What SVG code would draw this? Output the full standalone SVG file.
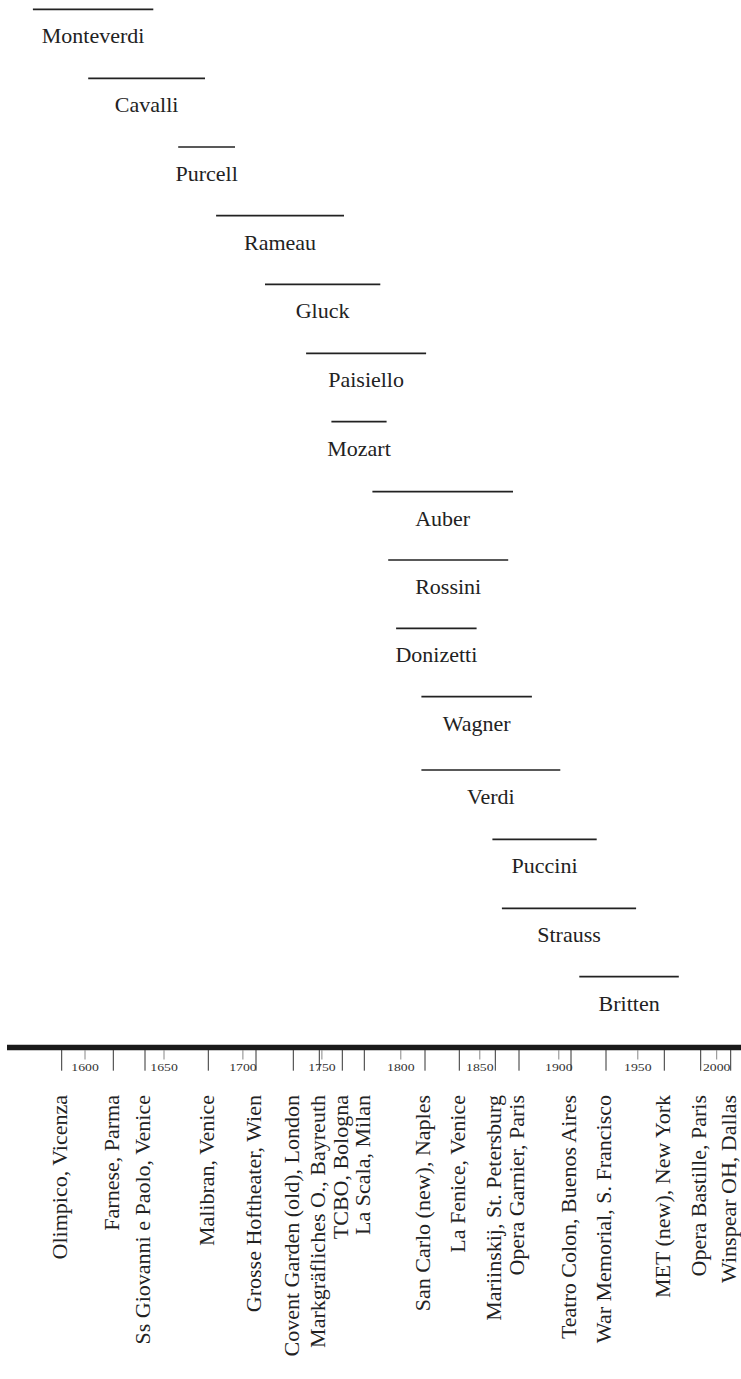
<svg xmlns="http://www.w3.org/2000/svg" width="741" height="1379" viewBox="0 0 741 1379">
<style>
.bar{stroke:#222;stroke-width:1.7;fill:none}
text.comp{font-family:'Liberation Serif',serif;font-size:22px;fill:#222;text-anchor:middle}
.venue{font-family:"Liberation Serif","Times New Roman",serif;font-size:22px;fill:#222;text-anchor:end}
.vtick{stroke:#333;stroke-width:1}
.ytick{stroke:#888;stroke-width:1}
.year{font-family:"Liberation Serif","Times New Roman",serif;font-size:10px;fill:#333;text-anchor:middle}
.axis{stroke:#1a1a1a;stroke-width:5.6}
</style>
<rect width="741" height="1379" fill="#fff"/>
<g id="composers">
<g id="monteverdi"><line class="bar" x1="32.9" y1="9.3" x2="153.3" y2="9.3"/><text class="comp" style="font-family:'Liberation Serif',serif" transform="translate(93.1,43.3)">Monteverdi</text></g>
<g id="cavalli"><line class="bar" x1="88.2" y1="78.3" x2="205" y2="78.3"/><text class="comp" style="font-family:'Liberation Serif',serif" transform="translate(146.6,112.3)">Cavalli</text></g>
<g id="purcell"><line class="bar" x1="178.2" y1="147" x2="235" y2="147"/><text class="comp" style="font-family:'Liberation Serif',serif" transform="translate(206.6,181)">Purcell</text></g>
<g id="rameau"><line class="bar" x1="216.1" y1="215.7" x2="344" y2="215.7"/><text class="comp" style="font-family:'Liberation Serif',serif" transform="translate(280,249.5)">Rameau</text></g>
<g id="gluck"><line class="bar" x1="265" y1="284.3" x2="380.3" y2="284.3"/><text class="comp" style="font-family:'Liberation Serif',serif" transform="translate(322.6,318.2)">Gluck</text></g>
<g id="paisiello"><line class="bar" x1="306.1" y1="353.3" x2="426.1" y2="353.3"/><text class="comp" style="font-family:'Liberation Serif',serif" transform="translate(366.1,387.2)">Paisiello</text></g>
<g id="mozart"><line class="bar" x1="331.4" y1="421.7" x2="386.6" y2="421.7"/><text class="comp" style="font-family:'Liberation Serif',serif" transform="translate(359,455.6)">Mozart</text></g>
<g id="auber"><line class="bar" x1="372.4" y1="491.7" x2="513" y2="491.7"/><text class="comp" style="font-family:'Liberation Serif',serif" transform="translate(442.7,525.6)">Auber</text></g>
<g id="rossini"><line class="bar" x1="388.2" y1="560" x2="508.2" y2="560"/><text class="comp" style="font-family:'Liberation Serif',serif" transform="translate(448.2,593.9)">Rossini</text></g>
<g id="donizetti"><line class="bar" x1="396.1" y1="628.3" x2="476.6" y2="628.3"/><text class="comp" style="font-family:'Liberation Serif',serif" transform="translate(436.4,662.2)">Donizetti</text></g>
<g id="wagner"><line class="bar" x1="421.4" y1="696.7" x2="531.9" y2="696.7"/><text class="comp" style="font-family:'Liberation Serif',serif" transform="translate(476.7,731.2)">Wagner</text></g>
<g id="verdi"><line class="bar" x1="421.4" y1="770" x2="560.3" y2="770"/><text class="comp" style="font-family:'Liberation Serif',serif" transform="translate(490.9,803.9)">Verdi</text></g>
<g id="puccini"><line class="bar" x1="492.4" y1="839.3" x2="596.7" y2="839.3"/><text class="comp" style="font-family:'Liberation Serif',serif" transform="translate(544.6,873.2)">Puccini</text></g>
<g id="strauss"><line class="bar" x1="501.9" y1="908.3" x2="636.1" y2="908.3"/><text class="comp" style="font-family:'Liberation Serif',serif" transform="translate(569,942.2)">Strauss</text></g>
<g id="britten"><line class="bar" x1="579.3" y1="976.7" x2="678.8" y2="976.7"/><text class="comp" style="font-family:'Liberation Serif',serif" transform="translate(629.1,1010.6)">Britten</text></g>
</g>
<g id="axis">
<line class="axis" x1="7" y1="1047.5" x2="741" y2="1047.5"/>
<g id="years">
<line class="ytick" x1="85" y1="1050" x2="85" y2="1059.5"/><text class="year" x="85" y="1071.3" textLength="27.5" lengthAdjust="spacingAndGlyphs">1600</text>
<line class="ytick" x1="164" y1="1050" x2="164" y2="1059.5"/><text class="year" x="164" y="1071.3" textLength="27.5" lengthAdjust="spacingAndGlyphs">1650</text>
<line class="ytick" x1="242.9" y1="1050" x2="242.9" y2="1059.5"/><text class="year" x="242.9" y="1071.3" textLength="27.5" lengthAdjust="spacingAndGlyphs">1700</text>
<line class="ytick" x1="321.9" y1="1050" x2="321.9" y2="1059.5"/><text class="year" x="321.9" y="1071.3" textLength="27.5" lengthAdjust="spacingAndGlyphs">1750</text>
<line class="ytick" x1="400.8" y1="1050" x2="400.8" y2="1059.5"/><text class="year" x="400.8" y="1071.3" textLength="27.5" lengthAdjust="spacingAndGlyphs">1800</text>
<line class="ytick" x1="479.8" y1="1050" x2="479.8" y2="1059.5"/><text class="year" x="479.8" y="1071.3" textLength="27.5" lengthAdjust="spacingAndGlyphs">1850</text>
<line class="ytick" x1="558.8" y1="1050" x2="558.8" y2="1059.5"/><text class="year" x="558.8" y="1071.3" textLength="27.5" lengthAdjust="spacingAndGlyphs">1900</text>
<line class="ytick" x1="637.8" y1="1050" x2="637.8" y2="1059.5"/><text class="year" x="637.8" y="1071.3" textLength="27.5" lengthAdjust="spacingAndGlyphs">1950</text>
<line class="ytick" x1="716.7" y1="1050" x2="716.7" y2="1059.5"/><text class="year" x="716.7" y="1071.3" textLength="27.5" lengthAdjust="spacingAndGlyphs">2000</text>
</g>
</g>
<g id="venues">
<g id="v-olimpico"><line class="vtick" x1="61.7" y1="1050" x2="61.7" y2="1070.7"/><text class="venue" transform="translate(67,1095) rotate(-90)">Olimpico, Vicenza</text></g>
<g id="v-farnese"><line class="vtick" x1="113.3" y1="1050" x2="113.3" y2="1070.7"/><text class="venue" transform="translate(118.6,1095) rotate(-90)">Farnese, Parma</text></g>
<g id="v-ssgiovanni"><line class="vtick" x1="145" y1="1050" x2="145" y2="1070.7"/><text class="venue" transform="translate(150.3,1095) rotate(-90)">Ss Giovanni e Paolo, Venice</text></g>
<g id="v-malibran"><line class="vtick" x1="208.3" y1="1050" x2="208.3" y2="1070.7"/><text class="venue" transform="translate(213.6,1095) rotate(-90)">Malibran, Venice</text></g>
<g id="v-grosse"><line class="vtick" x1="256" y1="1050" x2="256" y2="1070.7"/><text class="venue" transform="translate(261.3,1095) rotate(-90)">Grosse Hoftheater, Wien</text></g>
<g id="v-covent"><line class="vtick" x1="293.3" y1="1050" x2="293.3" y2="1070.7"/><text class="venue" transform="translate(298.6,1095) rotate(-90)">Covent Garden (old), London</text></g>
<g id="v-markgraf"><line class="vtick" x1="319.3" y1="1050" x2="319.3" y2="1070.7"/><text class="venue" transform="translate(324.6,1095) rotate(-90)">Markgräfliches O., Bayreuth</text></g>
<g id="v-tcbo"><line class="vtick" x1="342.3" y1="1050" x2="342.3" y2="1070.7"/><text class="venue" transform="translate(347.6,1095) rotate(-90)">TCBO, Bologna</text></g>
<g id="v-scala"><line class="vtick" x1="364.3" y1="1050" x2="364.3" y2="1070.7"/><text class="venue" transform="translate(369.6,1095) rotate(-90)">La Scala, Milan</text></g>
<g id="v-sancarlo"><line class="vtick" x1="425" y1="1050" x2="425" y2="1070.7"/><text class="venue" transform="translate(430.3,1095) rotate(-90)">San Carlo (new), Naples</text></g>
<g id="v-fenice"><line class="vtick" x1="459.3" y1="1050" x2="459.3" y2="1070.7"/><text class="venue" transform="translate(464.6,1095) rotate(-90)">La Fenice, Venice</text></g>
<g id="v-mariinskij"><line class="vtick" x1="495.3" y1="1050" x2="495.3" y2="1070.7"/><text class="venue" transform="translate(500.6,1095) rotate(-90)">Mariinskij, St. Petersburg</text></g>
<g id="v-garnier"><line class="vtick" x1="519" y1="1050" x2="519" y2="1070.7"/><text class="venue" transform="translate(524.3,1095) rotate(-90)">Opera Garnier, Paris</text></g>
<g id="v-colon"><line class="vtick" x1="571" y1="1050" x2="571" y2="1070.7"/><text class="venue" transform="translate(576.3,1095) rotate(-90)">Teatro Colon, Buenos Aires</text></g>
<g id="v-warmemorial"><line class="vtick" x1="606" y1="1050" x2="606" y2="1070.7"/><text class="venue" transform="translate(611.3,1095) rotate(-90)">War Memorial, S. Francisco</text></g>
<g id="v-met"><line class="vtick" x1="664.3" y1="1050" x2="664.3" y2="1070.7"/><text class="venue" transform="translate(669.6,1095) rotate(-90)">MET (new), New York</text></g>
<g id="v-bastille"><line class="vtick" x1="700.7" y1="1050" x2="700.7" y2="1070.7"/><text class="venue" transform="translate(706,1095) rotate(-90)">Opera Bastille, Paris</text></g>
<g id="v-winspear"><line class="vtick" x1="730.7" y1="1050" x2="730.7" y2="1070.7"/><text class="venue" transform="translate(736,1095) rotate(-90)">Winspear OH, Dallas</text></g>
</g>
</svg>
